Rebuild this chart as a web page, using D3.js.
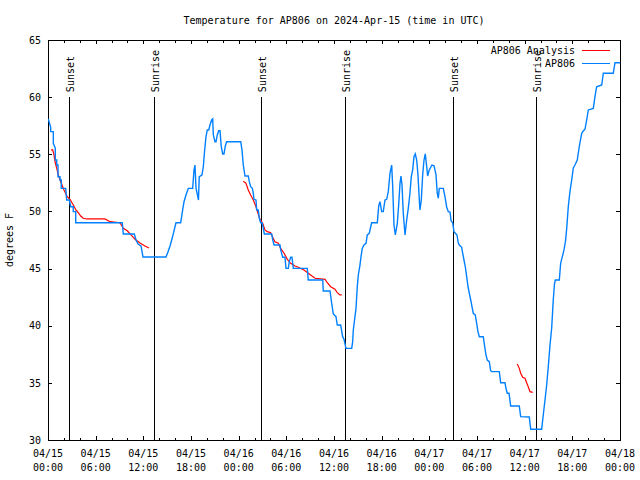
<!DOCTYPE html>
<html><head><meta charset="utf-8">
<script src="https://cdn.jsdelivr.net/npm/d3@7"></script>
<style>
body{margin:0;background:#fff}
svg{display:block}
text{font-family:"DejaVu Sans Mono","Liberation Mono",monospace;font-size:10px;fill:#000}
</style>
</head><body><svg id="c" width="640" height="480"></svg>
<script>
// ---------- data ----------
const titleText = "Temperature for AP806 on 2024-Apr-15 (time in UTC)";
const yAxisLabel = "degrees F";
const startTime = "2024-04-15T00:00:00Z";
const endTime = "2024-04-18T00:00:00Z";
const yDomain = [30, 65];
const yTickValues = [30, 35, 40, 45, 50, 55, 60, 65];
const seriesNames = ["AP806 Analysis", "AP806"];
const seriesColors = ["#ff0000", "#0080ff"];

// observed temperature: [hours since 04/15 00:00 UTC, degrees F]
const obsSeries = [
[0.04,58.09],[0.34,57.36],[0.34,56.98],[0.67,56.98],[0.67,55.96],[0.92,55.52],[0.92,54.5],[1.10,54.5],
[1.10,54.06],[1.26,54.06],[1.26,53.04],[1.51,53.04],[1.51,52.75],[1.67,52.75],[1.67,52.02],[2.23,52.02],
[2.35,51.0],[2.68,51.0],[2.86,50.41],[3.18,50.41],[3.18,49.98],[3.49,49.98],[3.49,49.01],[9.35,49.01],
[9.48,48.03],[10.86,48.03],[11.08,47.5],[11.33,47.15],[11.71,46.98],[11.96,46.01],[14.85,46.01],[15.10,46.45],
[15.36,46.98],[15.57,47.5],[15.77,48.03],[16.11,49.01],[16.70,49.01],[16.95,50.13],[17.12,50.85],[17.37,51.44],
[17.66,52.02],[18.21,52.02],[18.38,53.63],[18.50,54.06],[18.63,52.05],[18.94,51.0],[19.04,53.04],[19.38,53.19],
[19.55,53.91],[19.72,55.38],[19.89,56.54],[20.05,57.13],[20.23,57.13],[20.39,57.56],[20.60,58.0],[20.73,58.09],
[20.81,56.69],[21.02,56.10],[21.15,56.10],[21.31,56.69],[21.49,57.06],[21.65,57.06],[21.81,55.66],[21.99,55.03],
[22.15,55.03],[22.32,55.73],[22.49,56.10],[24.26,56.10],[24.42,55.38],[24.58,54.06],[24.80,53.1],[25.21,53.1],
[25.34,52.6],[25.51,52.16],[25.72,52.02],[25.84,51.59],[25.93,51.06],[26.18,51.0],[26.27,50.13],[26.47,50.13],
[26.60,49.40],[26.77,49.01],[26.94,49.01],[27.10,48.52],[27.23,48.03],[28.16,48.03],[28.28,47.56],[28.45,47.06],
[29.20,47.06],[29.29,46.63],[29.54,45.99],[29.83,45.99],[29.96,45.02],[30.25,45.02],[30.37,45.60],[30.55,45.99],
[30.71,45.99],[30.88,45.02],[32.64,45.02],[32.76,44.0],[34.58,44.0],[34.65,43.04],[35.50,43.04],[35.71,41.96],
[35.91,41.03],[36.25,40.79],[36.41,40.06],[36.84,40.06],[37.09,39.04],[37.26,38.81],[37.51,38.02],[38.23,38.02],
[38.35,38.60],[38.43,39.63],[38.64,40.79],[38.77,41.52],[38.93,43.41],[39.06,44.44],[39.27,45.31],[39.40,46.04],
[39.56,46.77],[39.77,47.06],[40.03,47.21],[40.19,47.94],[40.44,48.09],[40.74,49.01],[41.45,49.01],[41.63,50.48],
[41.79,50.85],[42.00,49.98],[42.20,49.98],[42.42,51.0],[42.63,51.06],[42.83,51.73],[43.05,53.34],[43.26,54.06],
[43.39,52.16],[43.55,48.81],[43.72,47.94],[43.97,48.96],[44.14,50.56],[44.31,52.46],[44.43,53.1],[44.56,52.31],
[44.72,49.84],[44.94,47.94],[45.15,49.25],[45.35,50.27],[45.56,51.59],[45.73,53.04],[45.90,53.63],[46.07,54.79],
[46.23,55.03],[46.41,54.5],[46.57,53.19],[46.74,51.0],[46.82,50.13],[46.99,51.0],[47.16,53.19],[47.33,54.5],
[47.49,55.03],[47.67,53.91],[47.79,53.1],[47.99,53.63],[48.33,54.06],[48.59,54.0],[48.84,53.19],[49.00,51.59],
[49.13,51.15],[49.25,52.02],[49.76,52.02],[49.97,51.29],[50.18,50.39],[50.39,49.98],[50.60,49.95],[50.73,49.19],
[50.94,49.01],[51.10,48.23],[51.36,48.03],[51.48,47.94],[51.64,47.26],[51.77,47.06],[52.07,46.86],[52.20,46.34],
[52.36,45.75],[52.53,45.16],[52.70,44.29],[52.87,43.41],[53.03,42.84],[53.21,42.25],[53.37,41.66],[53.53,41.09],
[53.78,40.94],[53.96,40.21],[54.12,39.48],[54.29,39.04],[54.79,39.04],[54.97,38.16],[55.13,37.44],[55.29,37.0],
[55.55,36.85],[55.72,36.06],[55.85,35.98],[56.81,35.98],[56.98,35.01],[57.52,35.01],[57.65,34.52],[57.81,34.09],
[58.03,34.09],[58.24,32.98],[59.32,32.98],[59.50,32.04],[60.58,32.01],[60.76,30.94],[62.14,30.94],[62.34,32.19],
[62.56,33.5],[62.77,34.81],[62.97,36.39],[63.19,38.31],[63.40,39.8],[63.60,42.25],[63.75,43.65],[63.86,44.0],
[64.36,44.0],[64.53,45.46],[64.74,46.04],[64.95,46.63],[65.16,47.5],[65.29,48.52],[65.49,50.41],[65.70,51.73],
[65.92,52.75],[66.12,53.8],[66.33,54.06],[66.62,54.5],[66.87,55.66],[67.18,56.84],[67.38,57.04],[67.59,57.19],
[67.81,58.0],[68.01,58.88],[68.64,59.02],[68.85,60.04],[69.06,60.91],[69.70,61.06],[69.90,62.09],[71.15,62.09],
[71.37,63.01],[72.0,63.01]
];

// analysis segments: [hours, degrees F]
const analysisSeg1 = [
[0.38,55.38],[0.59,55.38],[0.76,54.94],[0.88,54.35],[1.10,53.77],[1.30,53.19],[1.60,52.60],[2.01,51.88],
[2.43,51.29],[2.77,51.06],[3.11,50.65],[3.52,50.13],[3.81,49.89],[4.12,49.6],[4.44,49.4],[4.87,49.34],
[7.17,49.34],[7.80,49.10],[9.06,49.01],[9.48,48.52],[9.98,48.31],[10.32,48.03],[10.66,47.79],[10.95,47.56],
[11.58,47.24],[12.21,46.98],[12.71,46.80]
];
const analysisSeg2 = [
[24.58,52.64],[24.92,52.46],[25.21,51.88],[25.51,51.44],[25.84,51.0],[26.18,50.41],[26.40,49.89],[26.68,49.31],
[27.02,48.96],[27.31,48.38],[27.60,48.23],[28.03,48.14],[28.28,47.74],[28.57,47.35],[28.99,47.21],[29.29,46.77],
[29.71,46.34],[30.12,45.81],[30.55,45.46],[31.09,45.23],[31.51,45.11],[32.22,44.88],[32.76,44.59],[33.61,44.15],
[34.87,44.06],[35.16,43.76],[35.58,43.41],[36.12,43.19],[36.41,42.89],[36.75,42.69],[36.97,42.69]
];
const analysisSeg3 = [
[59.07,36.65],[59.32,36.27],[59.50,35.84],[59.75,35.49],[60.04,35.40],[60.25,35.01],[60.45,34.66],[60.67,34.23],
[61.01,34.17]
];
const analysisSegments = [analysisSeg1, analysisSeg2, analysisSeg3];

const sunLabels = ["Sunset", "Sunrise", "Sunset", "Sunrise", "Sunset", "Sunrise"];
const sunHours = [2.68, 13.38, 26.85, 37.42, 51.02, 61.46];
const sunLineTop = 60;

// ---------- drawing ----------
const L = 48, R = 620, T = 40, B = 440;
const svg = d3.select("#c");
const t0 = new Date(startTime).getTime();
const hr = h => new Date(t0 + h * 3600e3);

const x = d3.scaleUtc().domain([new Date(startTime), new Date(endTime)]).range([L, R]);
const y = d3.scaleLinear().domain(yDomain).range([B, T]);

svg.append("rect").attr("width", 640).attr("height", 480).attr("fill", "#fff");

svg.append("defs").append("clipPath").attr("id", "clip")
  .append("rect").attr("x", L).attr("y", T).attr("width", R - L).attr("height", B - T);

// ticks
const major = d3.utcHour.every(6);
const minorTicks = x.ticks(d3.utcHour.every(2)).filter(d => d.getUTCHours() % 6 !== 0);
function styleAxis(g) {
  g.select(".domain").remove();
  g.selectAll("line").attr("stroke", "#000").attr("shape-rendering", "crispEdges");
  g.selectAll("text").attr("font-family", null).attr("font-size", null).attr("fill", "#000");
}
svg.append("g").attr("transform", `translate(0,${B})`)
  .call(d3.axisBottom(x).ticks(major).tickSize(-4).tickFormat("")).call(styleAxis);
svg.append("g").attr("transform", `translate(0,${B})`)
  .call(d3.axisBottom(x).tickValues(minorTicks).tickSize(-2.5).tickFormat("")).call(styleAxis);
svg.append("g").attr("transform", `translate(0,${T})`)
  .call(d3.axisTop(x).ticks(major).tickSize(-4).tickFormat("")).call(styleAxis);
svg.append("g").attr("transform", `translate(0,${T})`)
  .call(d3.axisTop(x).tickValues(minorTicks).tickSize(-2.5).tickFormat("")).call(styleAxis);

svg.append("g").attr("transform", `translate(${L},0)`)
  .call(d3.axisLeft(y).tickValues(yTickValues).tickSize(-4).tickPadding(7).tickFormat(d3.format("d")))
  .call(styleAxis);
svg.append("g").attr("transform", `translate(${R},0)`)
  .call(d3.axisRight(y).tickValues(yTickValues).tickSize(-4).tickFormat(""))
  .call(styleAxis);

// x tick labels (two rows)
const fmtDate = d3.utcFormat("%m/%d"), fmtTime = d3.utcFormat("%H:%M");
const xl = svg.append("g").selectAll("g").data(x.ticks(major)).join("g")
  .attr("transform", d => `translate(${x(d)},0)`);
xl.append("text").attr("y", 457).attr("text-anchor", "middle").text(fmtDate);
xl.append("text").attr("y", 471).attr("text-anchor", "middle").text(fmtTime);

// frame
svg.append("rect").attr("x", L + 0.5).attr("y", T + 0.5).attr("width", R - L).attr("height", B - T)
  .attr("fill", "none").attr("stroke", "#000").attr("shape-rendering", "crispEdges");

// sun lines
const sg = svg.append("g").selectAll("g").data(sunHours).join("g");
sg.append("line")
  .attr("x1", d => Math.round(x(hr(d))) + 0.5).attr("x2", d => Math.round(x(hr(d))) + 0.5)
  .attr("y1", y(sunLineTop)).attr("y2", y(yDomain[0]))
  .attr("stroke", "#000").attr("shape-rendering", "crispEdges");
sg.append("text")
  .attr("transform", d => `translate(${Math.round(x(hr(d))) + 5},${y(sunLineTop) - 5}) rotate(-90)`)
  .attr("text-anchor", "start")
  .text((d, i) => sunLabels[i]);

// data lines
const line = d3.line().x(d => x(hr(d[0]))).y(d => y(d[1]));
const plot = svg.append("g").attr("clip-path", "url(#clip)");
analysisSegments.forEach(seg => {
  plot.append("path").attr("d", line(seg)).attr("fill", "none")
    .attr("stroke", seriesColors[0]).attr("stroke-width", 1.2);
});
plot.append("path").attr("d", line(obsSeries)).attr("fill", "none")
  .attr("stroke", seriesColors[1]).attr("stroke-width", 1.4);

// legend
const lg = svg.append("g").selectAll("g").data(seriesNames).join("g")
  .attr("transform", (d, i) => `translate(0,${50 + i * 13})`);
lg.append("text").attr("x", 575).attr("y", 4).attr("text-anchor", "end").text(d => d);
lg.append("line").attr("x1", 582).attr("x2", 610).attr("y1", 0.5).attr("y2", 0.5)
  .attr("stroke", (d, i) => seriesColors[i]).attr("shape-rendering", "crispEdges");

// title and y label
svg.append("text").attr("x", (L + R) / 2).attr("y", 24).attr("text-anchor", "middle").text(titleText);
svg.append("text").attr("transform", `translate(13,${(T + B) / 2}) rotate(-90)`)
  .attr("text-anchor", "middle").text(yAxisLabel);
</script>
</body></html>
